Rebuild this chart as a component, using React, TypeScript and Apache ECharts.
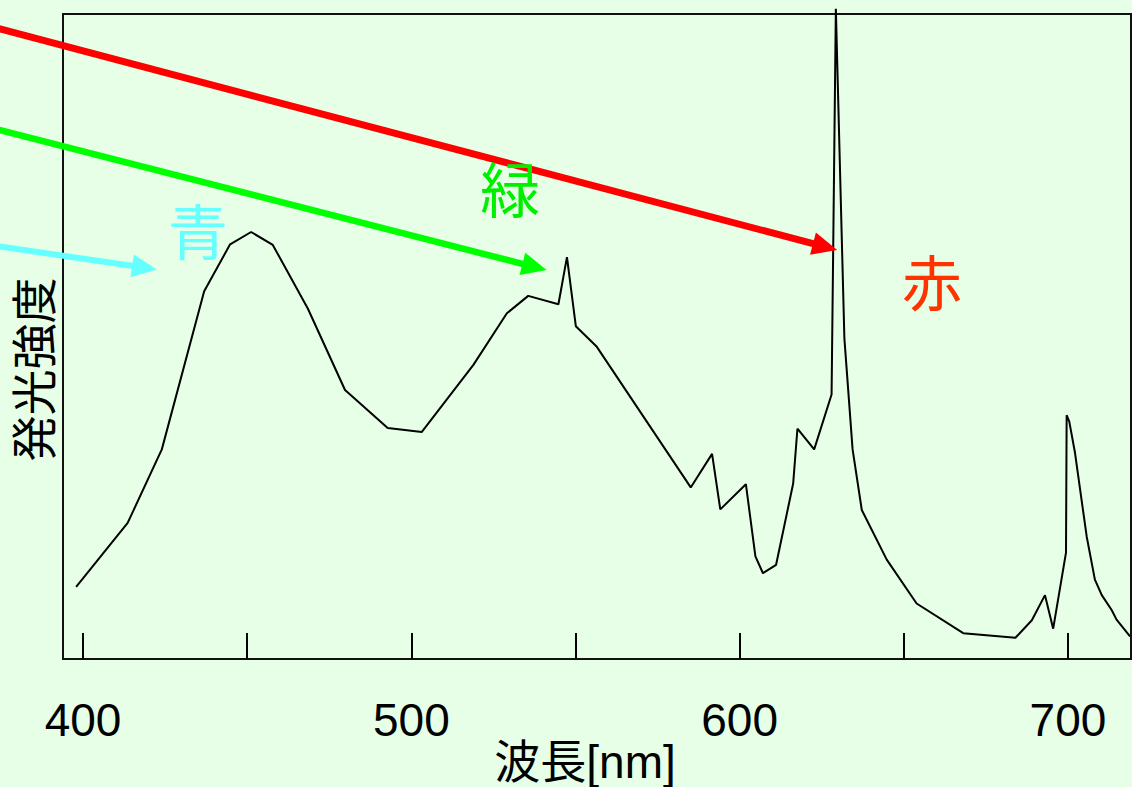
import React, { useEffect, useRef } from "react";
import * as echarts from "echarts";

// Spectrum (wavelength in nm, relative emission intensity)
const wavelengths = [
  397.9, 413.6, 424.0, 436.9, 444.8, 451.2, 457.8, 468.5, 479.8, 492.8,
  503.2, 518.9, 529.1, 535.6, 544.8, 547.4, 550.1, 556.5, 585.1, 591.6,
  594.1, 601.9, 604.8, 607.1, 611.1, 616.3, 617.6, 622.7, 628.0, 629.3,
  631.9, 634.4, 637.2, 644.8, 653.9, 668.1, 684.0, 689.0, 693.0, 695.5,
  699.4, 699.6, 700.4, 702.1, 705.7, 708.2, 710.3, 713.3, 714.8, 718.9,
];
const intensities = [
  11.2, 21.1, 32.5, 57.0, 64.3, 66.2, 64.2, 54.3, 41.7, 35.8,
  35.2, 45.6, 53.6, 56.3, 55.0, 62.3, 51.6, 48.4, 26.6, 31.8,
  23.2, 27.1, 15.9, 13.3, 14.6, 27.2, 35.7, 32.5, 41.0, 100.8,
  49.7, 32.5, 23.1, 15.4, 8.6, 4.0, 3.3, 6.0, 9.9, 4.7,
  16.5, 37.8, 36.8, 32.1, 19.0, 12.3, 9.9, 7.6, 6.1, 3.5,
];

const xTickValues = [400, 450, 500, 550, 600, 650, 700];
const xLabelValues = [400, 500, 600, 700];

// Annotation arrows (data coordinates)
const arrowColors = ["#ff0000", "#00ff00", "#66ffff"];
const arrowWidths = [7, 6.5, 6];
const arrowFromNm = [368.6, 368.6, 368.6];
const arrowFromVal = [98.5, 82.8, 64.4];
const arrowToNm = [629.7, 541.2, 422.5];
const arrowToVal = [63.4, 60.3, 60.4];

// Colour name labels
const colorNames = ["青", "緑", "赤"];
const colorNameFills = ["#66ffff", "#00ee00", "#ff3300"];
const colorNameNm = [435.0, 530.1, 658.6];
const colorNameVal = [66.7, 73.2, 58.8];

export default function App() {
  const ref = useRef<HTMLDivElement>(null);

  useEffect(() => {
    if (!ref.current) return;
    const chart = echarts.init(ref.current, null, { renderer: "svg" });
    const cjk = '"Liberation Sans", Arial, "Noto Sans CJK JP", sans-serif';
    chart.setOption({
      animation: false,
      backgroundColor: "#e6ffe6",
      grid: {
        show: true,
        left: 63,
        right: 1,
        top: 14,
        bottom: 128,
        outerBoundsMode: "none",
        containLabel: false,
        borderColor: "#111",
        borderWidth: 2,
        backgroundColor: "transparent",
      },
      xAxis: {
        type: "value",
        min: 393.9,
        max: 719.2,
        name: "波長[nm]",
        nameLocation: "middle",
        nameGap: 80,
        nameMoveOverlap: false,
        nameTextStyle: {
          fontSize: 46,
          lineHeight: 46,
          color: "#000",
          fontFamily: cjk,
          padding: [0, 24, 0, 0],
        },
        axisLine: { show: false },
        axisTick: {
          show: true,
          inside: true,
          length: 26,
          customValues: xTickValues,
          lineStyle: { color: "#000", width: 2 },
        },
        axisLabel: {
          show: true,
          customValues: xLabelValues,
          margin: 38,
          fontSize: 46,
          color: "#000",
          fontFamily: cjk,
        },
        splitLine: { show: false },
      },
      yAxis: {
        type: "value",
        min: 0,
        max: 100,
        name: "発光強度",
        nameLocation: "middle",
        nameGap: 5,
        nameMoveOverlap: false,
        nameTextStyle: {
          fontSize: 46,
          color: "#000",
          fontFamily: cjk,
          padding: [0, 66, 0, 0],
        },
        axisLine: { show: false },
        axisTick: { show: false },
        axisLabel: { show: false },
        splitLine: { show: false },
      },
      series: [
        {
          type: "line",
          data: wavelengths.map((w, i) => [w, intensities[i]]),
          showSymbol: false,
          clip: false,
          lineStyle: { color: "#000", width: 2 },
          silent: true,
        },
      ],
    });

    const graphics: any[] = [];
    for (let i = 0; i < arrowColors.length; i++) {
      const p0 = chart.convertToPixel({ gridIndex: 0 }, [arrowFromNm[i], arrowFromVal[i]]) as number[];
      const p1 = chart.convertToPixel({ gridIndex: 0 }, [arrowToNm[i], arrowToVal[i]]) as number[];
      const dx = p1[0] - p0[0];
      const dy = p1[1] - p0[1];
      const len = Math.sqrt(dx * dx + dy * dy);
      const ux = dx / len;
      const uy = dy / len;
      const headLen = 25;
      const headHalf = 11.5;
      const bx = p1[0] - ux * headLen;
      const by = p1[1] - uy * headLen;
      graphics.push({
        type: "polyline",
        shape: { points: [p0, [bx + ux * 3, by + uy * 3]] },
        style: { stroke: arrowColors[i], lineWidth: arrowWidths[i], fill: "none" },
        z: 10,
      });
      graphics.push({
        type: "polygon",
        shape: {
          points: [
            [p1[0], p1[1]],
            [bx - uy * headHalf, by + ux * headHalf],
            [bx + uy * headHalf, by - ux * headHalf],
          ],
        },
        style: { fill: arrowColors[i] },
        z: 10,
      });
    }
    for (let i = 0; i < colorNames.length; i++) {
      const p = chart.convertToPixel({ gridIndex: 0 }, [colorNameNm[i], colorNameVal[i]]) as number[];
      graphics.push({
        type: "text",
        x: p[0],
        y: p[1],
        style: {
          text: colorNames[i],
          fill: colorNameFills[i],
          fontSize: 60,
          fontFamily: '"Noto Sans CJK JP", sans-serif',
          align: "center",
          verticalAlign: "middle",
        },
        z: 11,
      });
    }
    chart.setOption({ graphic: graphics });

    return () => chart.dispose();
  }, []);

  return (
    <div
      ref={ref}
      style={{ position: "fixed", left: 0, top: 0, width: 1132, height: 787 }}
    />
  );
}
